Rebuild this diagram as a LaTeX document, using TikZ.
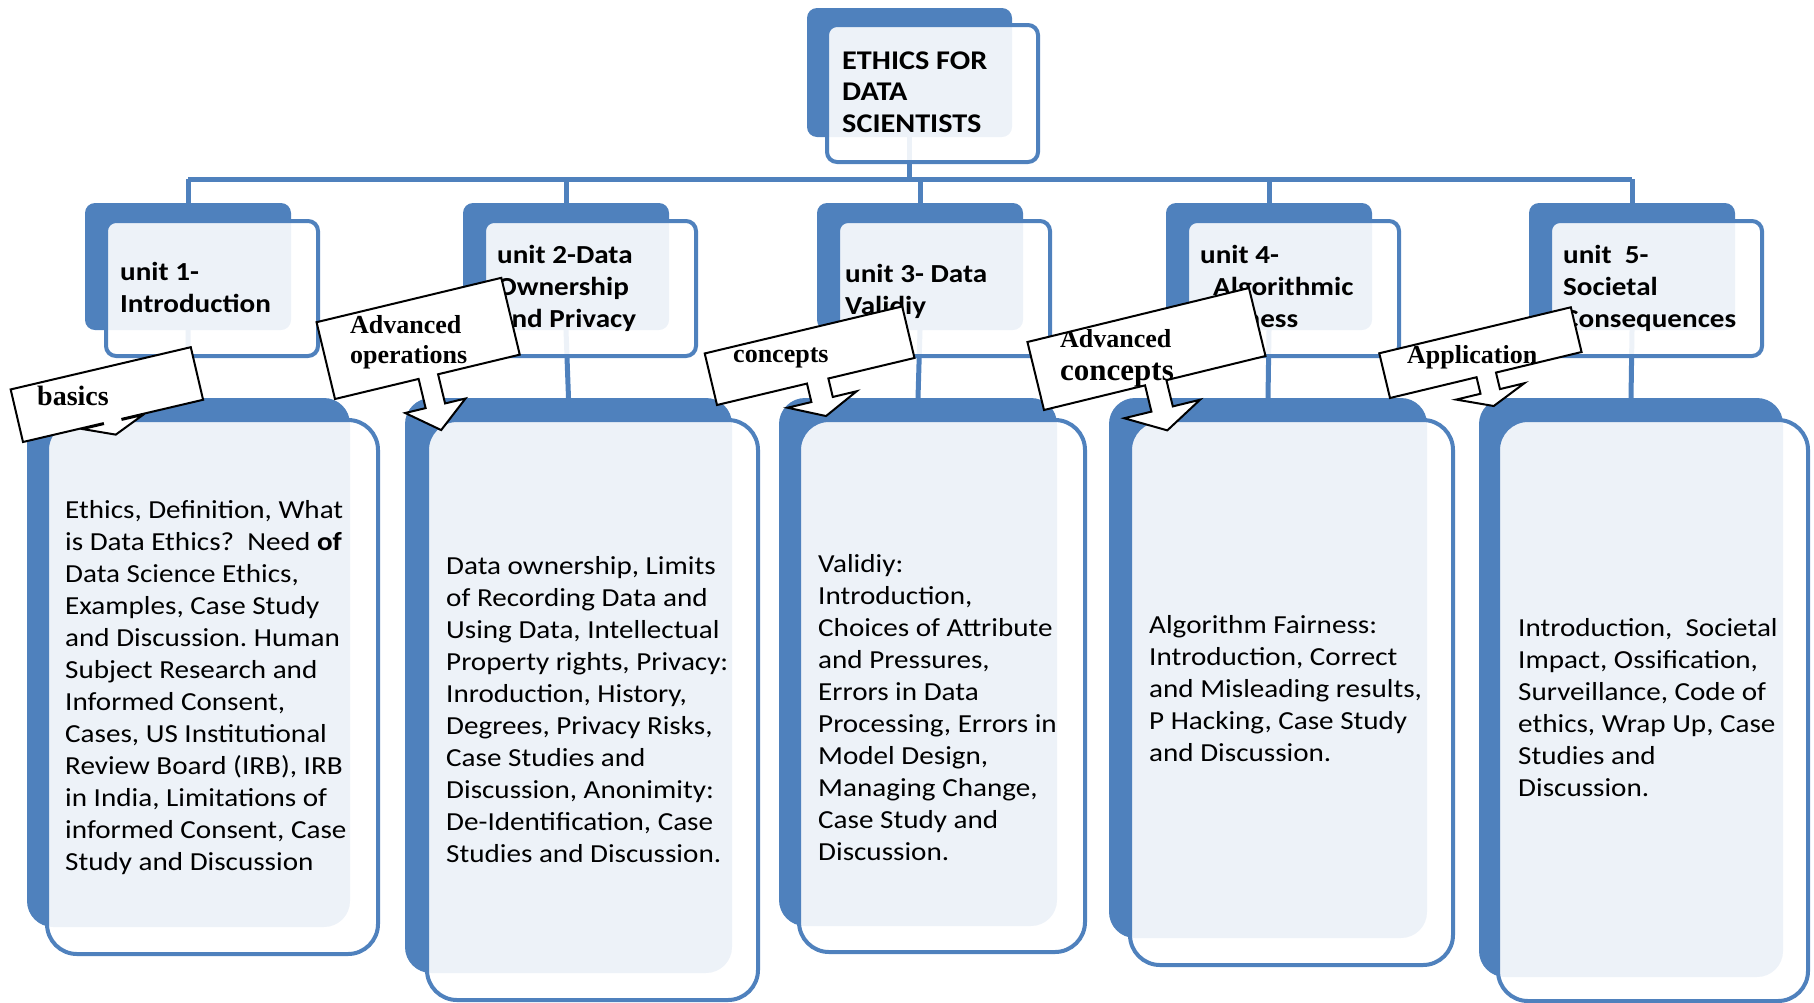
\documentclass[tikz,border=0pt]{standalone}
\usepackage{fontspec}
\setmainfont{Carlito}[FakeStretch=1.12]
\newfontfamily\callfont{Liberation Serif}
\usetikzlibrary{fit,backgrounds}
\definecolor{smartblue}{HTML}{4F81BD}

\begin{document}
\begin{tikzpicture}[x=1pt, y=-1pt,
  backbox/.style={fill=smartblue, rounded corners=#1, inner sep=0pt, outer sep=0pt},
  backbox/.default=10,
  frontbox/.style={draw=smartblue, line width=4pt, fill=white, fill opacity=0.9, rounded corners=#1, inner sep=0pt, outer sep=0pt},
  frontbox/.default=10,
  link/.style={smartblue, line width=5pt},
  unitlabel/.style={font=\fontsize{26}{32}\selectfont\bfseries, align=left, anchor=base west, inner sep=0pt},
  topiclabel/.style={font=\fontsize{26}{32}\selectfont, align=left, anchor=base west, inner sep=0pt},
  callshape/.style={fill=white, draw=black, line width=2pt},
  calltext/.style={font=\callfont\bfseries\fontsize{26}{30}\selectfont, align=left, anchor=base west, inner sep=0pt}]

  \useasboundingbox (0,0) rectangle (1814,1002);

  % top box (labels are placed by the baseline of their last line)
  \node[backbox, fit={(807,8) (1012,137)}] (topb) {};
  \node[frontbox, fit={(827,25) (1038,162)}] (topf) {};
  \node[unitlabel, font=\fontsize{27}{31.5}\selectfont\bfseries] (toptxt) at (842,132) {ETHICS FOR\\DATA\\SCIENTISTS};

  % unit boxes
  \foreach \i/\xa in {1/85, 2/463, 3/817, 4/1166, 5/1529} {
    \node[backbox, fit={(\xa,203) ({\xa+206},330)}] (ub\i) {};
    \node[frontbox, fit={({\xa+21},221) ({\xa+233},356)}] (uf\i) {};
  }

  % content boxes
  \foreach \i/\xa/\xb/\ya/\xc/\xd/\yb in {1/27/350/927/47/378/954, 2/405/732/973/427/758/1000,
      3/779/1057/926/799/1085/952, 4/1109/1427/938/1130/1453/965, 5/1479/1783/977/1498/1808/1001} {
    \node[backbox=26, fit={(\xa,398) (\xb,\ya)}] (cb\i) {};
    \node[frontbox=30, fit={(\xc,420) (\xd,\yb)}] (cf\i) {};
  }

  % connectors, behind the boxes
  \begin{scope}[on background layer]
    \coordinate (bus) at (0,179);
    \draw[link] (topb.south) -- (topb.south |- bus);
    \draw[link] (ub1.north |- bus) -- (ub5.north |- bus);
    \foreach \i in {1,...,5} {
      \draw[link] (ub\i.north |- bus) -- (ub\i.north);
      \draw[link] (ub\i.south) -- (cb\i.north);
    }
  \end{scope}

  % unit titles
  \node[unitlabel] (ut1) at (120,312) {unit 1-\\Introduction};
  \node[unitlabel] (ut2) at (497,327) {unit 2-Data\\Ownership\\and Privacy};
  \node[unitlabel] (ut3) at (845,314) {unit 3- Data\\Validiy};
  \node[unitlabel] (ut4) at (1200,327) {unit 4-\\\hspace*{13pt}Algorithmic\\Fairness};
  \node[unitlabel] (ut5) at (1563,327) {unit\ \ 5-\\Societal\\Consequences};

  % topics of each unit
  \node[topiclabel] (ct1) at (65,870) {Ethics, Definition, What\\is Data Ethics?\ \ Need \textbf{of}\\Data Science Ethics,\\Examples, Case Study\\and Discussion.\ Human\\Subject Research and\\Informed Consent,\\Cases, US Institutional\\Review Board (IRB), IRB\\in India, Limitations of\\informed Consent, Case\\Study and Discussion};
  \node[topiclabel] (ct2) at (446,862) {Data ownership, Limits\\of Recording Data and\\Using Data, Intellectual\\Property rights, Privacy:\\Inroduction, History,\\Degrees, Privacy Risks,\\Case Studies and\\Discussion, Anonimity:\\De-Identification, Case\\Studies and Discussion.};
  \node[topiclabel] (ct3) at (818,860) {Validiy:\\Introduction,\\Choices of Attribute\\and Pressures,\\Errors in Data\\Processing, Errors in\\Model Design,\\Managing Change,\\Case Study and\\Discussion.};
  \node[topiclabel] (ct4) at (1149,761) {Algorithm Fairness:\\Introduction, Correct\\and Misleading results,\\P Hacking, Case Study\\and Discussion.};
  \node[topiclabel] (ct5) at (1518,796) {Introduction,\ \ Societal\\Impact, Ossification,\\Surveillance, Code of\\ethics, Wrap Up, Case\\Studies and\\Discussion.};

  % tilted callouts with a down arrow
  \foreach \px/\py/\ang/\bw/\bh/\ac/\aw/\al/\hw/\hl/\tx/\ty/\nm/\txt in {
      23/442/13.2/185/54/92/20/1/62/13/37/405/cbasics/{\fontsize{28}{30}\selectfont basics},
      335/399/13.5/190/79/96/20/30/62/25/350/363/cadvops/{Advanced\\operations},
      717/405/13.4/203/53/103.5/22/19/71/17/733/362/cconcepts/concepts,
      1044/410/13.7/228/70/115/22/27/78/22/1060/380/cadvcon/{Advanced\\[3pt]{\fontsize{31}{34}\selectfont concepts}},
      1390/398/13.5/197/46/99/20/17/70/15/1407/363/capp/Application} {
    \begin{scope}
      \path[preaction={callshape}, clip, shift={(\px,\py)}, rotate=\ang]
        (0,0) -- ({\ac-\aw/2},0) -- ({\ac-\aw/2},\al) -- ({\ac-\hw/2},\al) -- (\ac,{\al+\hl})
        -- ({\ac+\hw/2},\al) -- ({\ac+\aw/2},\al) -- ({\ac+\aw/2},0) -- (\bw,0) -- (\bw,-\bh) -- (0,-\bh) -- cycle;
      \node[calltext] (\nm) at (\tx,\ty) {\txt};
    \end{scope}
  }
\end{tikzpicture}
\end{document}
